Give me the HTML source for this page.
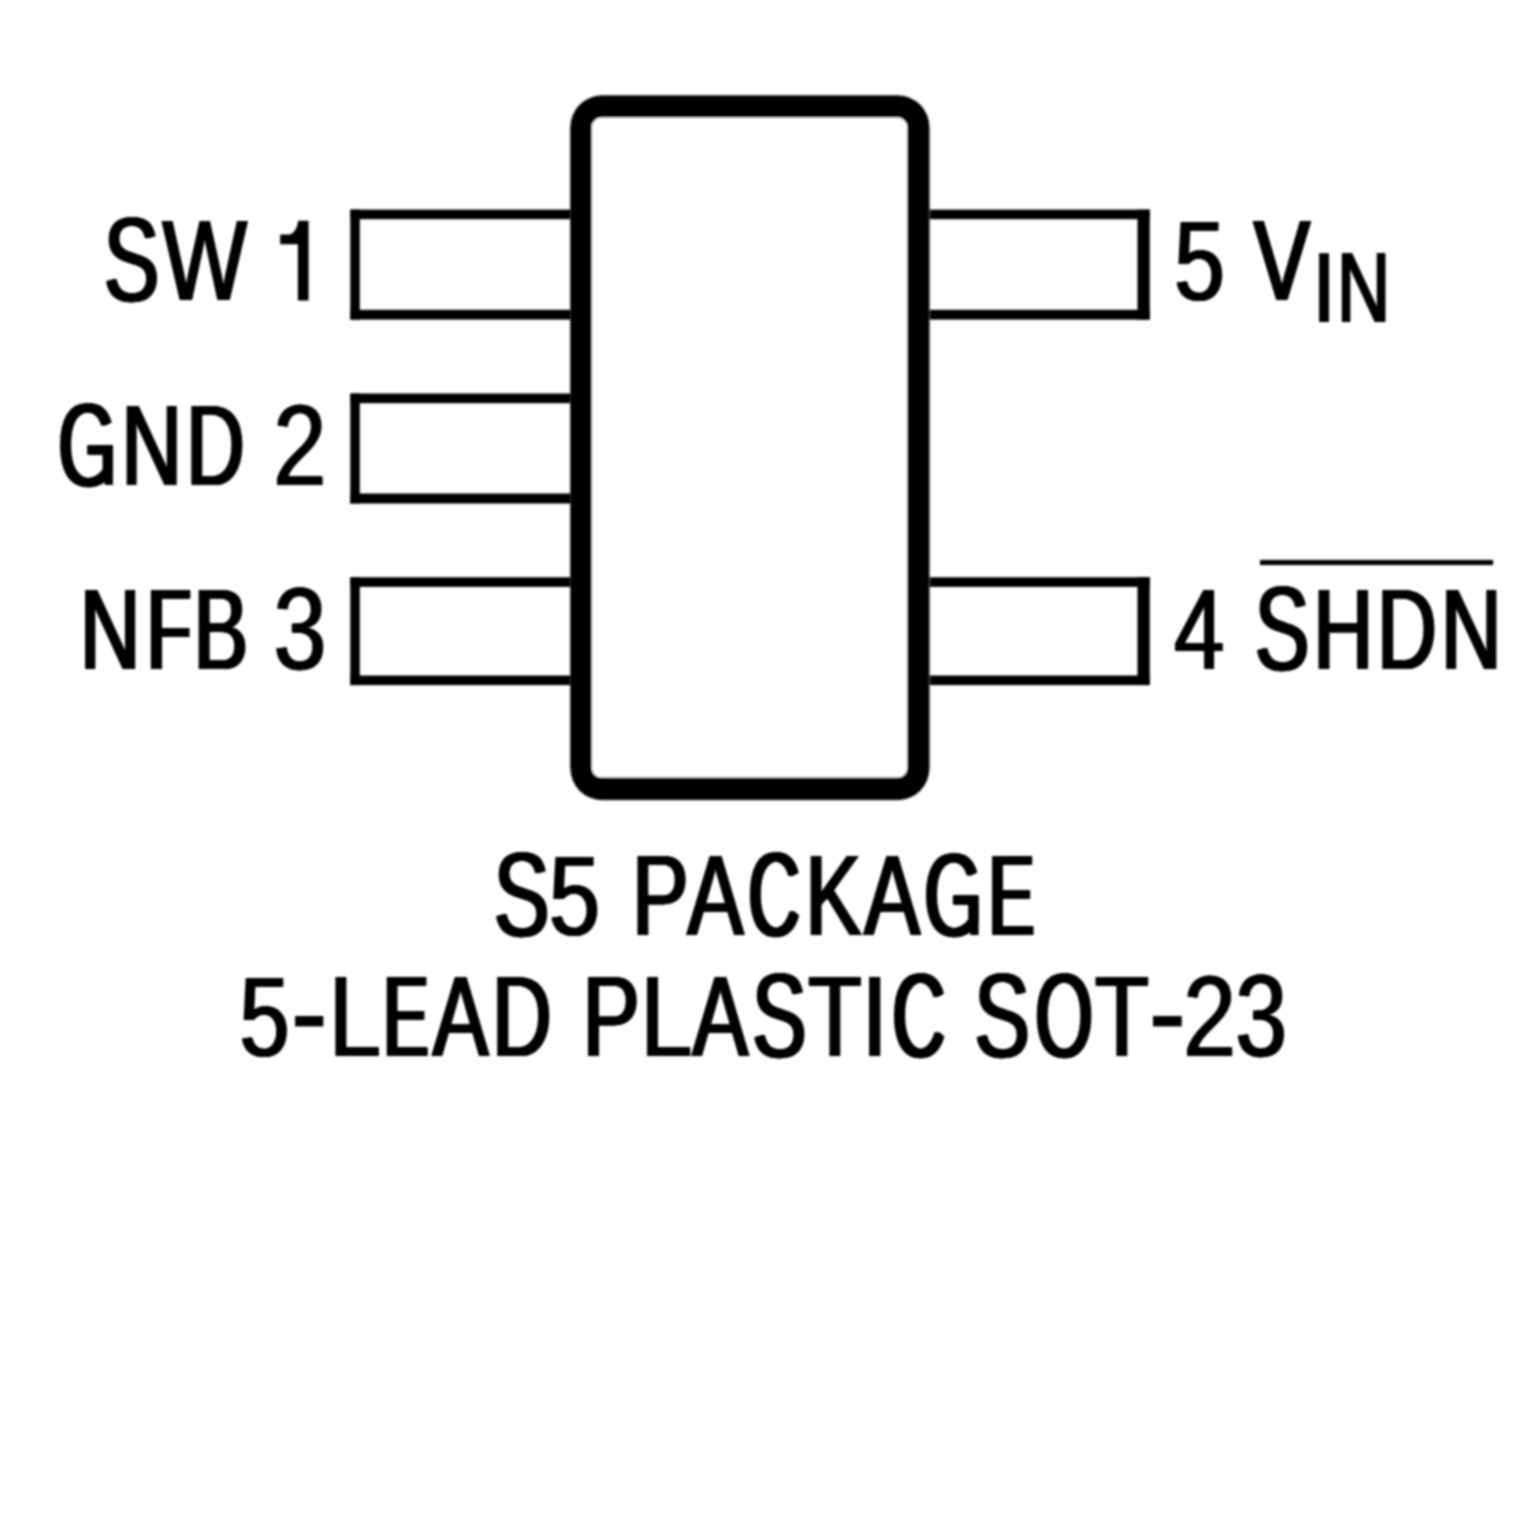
<!DOCTYPE html>
<html>
<head>
<meta charset="utf-8">
<title>S5 Package Pinout</title>
<style>
html,body{margin:0;padding:0;background:#fff;}
body{width:1535px;height:1535px;overflow:hidden;}
svg{display:block;}
text{font-family:"Liberation Sans",sans-serif;fill:#000;text-rendering:geometricPrecision;}
</style>
</head>
<body>
<svg width="1535" height="1535" viewBox="0 0 1535 1535">
<defs><filter id="soft" x="0" y="0" width="1535" height="1535" filterUnits="userSpaceOnUse"><feGaussianBlur stdDeviation="0.9"/></filter></defs>
<rect x="0" y="0" width="1535" height="1535" fill="#ffffff"/>
<g id="diagram" filter="url(#soft)">
<g id="pins" fill="#000">
<rect x="350.3" y="209.6" width="225" height="9.6"/><rect x="350.3" y="309.8" width="225" height="9.8"/><rect x="350.3" y="209.6" width="9.5" height="110.0"/>
<rect x="350.3" y="393.5" width="225" height="9.7"/><rect x="350.3" y="493.5" width="225" height="10.0"/><rect x="350.3" y="393.5" width="9.5" height="110.0"/>
<rect x="350.3" y="577.3" width="225" height="9.6"/><rect x="350.3" y="675.5" width="225" height="9.6"/><rect x="350.3" y="577.3" width="9.5" height="107.8"/>
<rect x="925" y="209.6" width="224.8" height="9.6"/><rect x="925" y="309.8" width="224.8" height="9.8"/><rect x="1137.5" y="209.6" width="12.3" height="110.0"/>
<rect x="925" y="577.3" width="224.8" height="9.6"/><rect x="925" y="675.5" width="224.8" height="9.6"/><rect x="1137.5" y="577.3" width="12.3" height="107.8"/>
</g>
<path id="body-fill" d="M602.2,95.2 H897.6 A32,32 0 0 1 929.6,127.2 V768.3 A32,32 0 0 1 897.6,800.3 H602.2 A32,32 0 0 1 570.2,768.3 V127.2 A32,32 0 0 1 602.2,95.2 Z" fill="#fff"/>
<path id="body" d="M602.2,95.2 H897.6 A32,32 0 0 1 929.6,127.2 V768.3 A32,32 0 0 1 897.6,800.3 H602.2 A32,32 0 0 1 570.2,768.3 V127.2 A32,32 0 0 1 602.2,95.2 Z M601.3,117.6 H897.7 A9.5,9.5 0 0 1 907.2,127.1 V768.1 A9.5,9.5 0 0 1 897.7,777.6 H601.3 A9.5,9.5 0 0 1 591.8,768.1 V127.1 A9.5,9.5 0 0 1 601.3,117.6 Z" fill="#000" fill-rule="evenodd"/>
<g id="marks" fill="#000">
<rect x="1260" y="559.9" width="233.1" height="5.2"/>
<rect x="295.1" y="1016" width="28.2" height="10.4"/>
<rect x="1153" y="1016" width="28.7" height="10.4"/>
<path d="M298.2,220.8 H308.6 V300.4 H297.9 V244.2 H280.2 V234.5 H289.5 C294,233.5 297,229 298.2,220.8 Z"/>
<rect x="104.6" y="445" width="8.3" height="39.9"/>
<rect x="970.2" y="895.5" width="8.4" height="39.5"/>
</g>
<g id="labels">
<text transform="translate(102.36,301) scale(0.7219,1.043)" font-size="114.95">S</text><text transform="translate(103.17,301) scale(0.7219,1.043)" font-size="114.95">S</text><text transform="translate(103.98,301) scale(0.7219,1.043)" font-size="114.95">S</text><text transform="translate(104.79,301) scale(0.7219,1.043)" font-size="114.95">S</text><text transform="translate(105.60,301) scale(0.7219,1.043)" font-size="114.95">S</text>
<text transform="translate(160.99,300) scale(0.7822,1)" font-size="114.95">W</text><text transform="translate(161.64,300) scale(0.7822,1)" font-size="114.95">W</text><text transform="translate(162.29,300) scale(0.7822,1)" font-size="114.95">W</text><text transform="translate(162.94,300) scale(0.7822,1)" font-size="114.95">W</text><text transform="translate(163.59,300) scale(0.7822,1)" font-size="114.95">W</text>
<text transform="translate(56.22,486) scale(0.6523,1.03)" font-size="114.95">G</text><text transform="translate(57.22,486) scale(0.6523,1.03)" font-size="114.95">G</text><text transform="translate(58.21,486) scale(0.6523,1.03)" font-size="114.95">G</text><text transform="translate(59.20,486) scale(0.6523,1.03)" font-size="114.95">G</text><text transform="translate(60.20,486) scale(0.6523,1.03)" font-size="114.95">G</text>
<text transform="translate(119.68,485) scale(0.7337,1)" font-size="114.95">N</text><text transform="translate(120.46,485) scale(0.7337,1)" font-size="114.95">N</text><text transform="translate(121.24,485) scale(0.7337,1)" font-size="114.95">N</text><text transform="translate(122.02,485) scale(0.7337,1)" font-size="114.95">N</text><text transform="translate(122.80,485) scale(0.7337,1)" font-size="114.95">N</text>
<text transform="translate(184.81,485) scale(0.6984,1)" font-size="114.95">D</text><text transform="translate(185.69,485) scale(0.6984,1)" font-size="114.95">D</text><text transform="translate(186.56,485) scale(0.6984,1)" font-size="114.95">D</text><text transform="translate(187.44,485) scale(0.6984,1)" font-size="114.95">D</text><text transform="translate(188.31,485) scale(0.6984,1)" font-size="114.95">D</text>
<text transform="translate(272.30,485) scale(0.8314,1)" font-size="114.95">2</text><text transform="translate(272.81,485) scale(0.8314,1)" font-size="114.95">2</text><text transform="translate(273.33,485) scale(0.8314,1)" font-size="114.95">2</text><text transform="translate(273.84,485) scale(0.8314,1)" font-size="114.95">2</text><text transform="translate(274.36,485) scale(0.8314,1)" font-size="114.95">2</text>
<text transform="translate(78.31,669) scale(0.7299,1)" font-size="114.95">N</text><text transform="translate(79.10,669) scale(0.7299,1)" font-size="114.95">N</text><text transform="translate(79.89,669) scale(0.7299,1)" font-size="114.95">N</text><text transform="translate(80.68,669) scale(0.7299,1)" font-size="114.95">N</text><text transform="translate(81.47,669) scale(0.7299,1)" font-size="114.95">N</text>
<text transform="translate(145.12,669) scale(0.6232,1)" font-size="114.95">F</text><text transform="translate(146.20,669) scale(0.6232,1)" font-size="114.95">F</text><text transform="translate(147.27,669) scale(0.6232,1)" font-size="114.95">F</text><text transform="translate(148.34,669) scale(0.6232,1)" font-size="114.95">F</text><text transform="translate(149.42,669) scale(0.6232,1)" font-size="114.95">F</text>
<text transform="translate(192.03,669) scale(0.7068,1)" font-size="114.95">B</text><text transform="translate(192.88,669) scale(0.7068,1)" font-size="114.95">B</text><text transform="translate(193.73,669) scale(0.7068,1)" font-size="114.95">B</text><text transform="translate(194.58,669) scale(0.7068,1)" font-size="114.95">B</text><text transform="translate(195.43,669) scale(0.7068,1)" font-size="114.95">B</text>
<text transform="translate(272.56,669) scale(0.8245,1.015)" font-size="114.95">3</text><text transform="translate(273.09,669) scale(0.8245,1.015)" font-size="114.95">3</text><text transform="translate(273.63,669) scale(0.8245,1.015)" font-size="114.95">3</text><text transform="translate(274.17,669) scale(0.8245,1.015)" font-size="114.95">3</text><text transform="translate(274.70,669) scale(0.8245,1.015)" font-size="114.95">3</text>
<text transform="translate(1172.92,300) scale(0.7902,0.985)" font-size="114.95">5</text><text transform="translate(1173.55,300) scale(0.7902,0.985)" font-size="114.95">5</text><text transform="translate(1174.17,300) scale(0.7902,0.985)" font-size="114.95">5</text><text transform="translate(1174.80,300) scale(0.7902,0.985)" font-size="114.95">5</text><text transform="translate(1175.42,300) scale(0.7902,0.985)" font-size="114.95">5</text>
<text transform="translate(1252.08,300) scale(0.7372,1)" font-size="114.95">V</text><text transform="translate(1252.85,300) scale(0.7372,1)" font-size="114.95">V</text><text transform="translate(1253.62,300) scale(0.7372,1)" font-size="114.95">V</text><text transform="translate(1254.39,300) scale(0.7372,1)" font-size="114.95">V</text><text transform="translate(1255.16,300) scale(0.7372,1)" font-size="114.95">V</text>
<text transform="translate(1309.13,322) scale(1.0656,1)" font-size="100.0">I</text>
<text transform="translate(1335.65,322) scale(0.7363,1)" font-size="100.0">N</text><text transform="translate(1336.32,322) scale(0.7363,1)" font-size="100.0">N</text><text transform="translate(1336.99,322) scale(0.7363,1)" font-size="100.0">N</text><text transform="translate(1337.66,322) scale(0.7363,1)" font-size="100.0">N</text><text transform="translate(1338.33,322) scale(0.7363,1)" font-size="100.0">N</text>
<text transform="translate(1172.94,669) scale(0.7802,1)" font-size="114.95">4</text><text transform="translate(1173.60,669) scale(0.7802,1)" font-size="114.95">4</text><text transform="translate(1174.25,669) scale(0.7802,1)" font-size="114.95">4</text><text transform="translate(1174.90,669) scale(0.7802,1)" font-size="114.95">4</text><text transform="translate(1175.56,669) scale(0.7802,1)" font-size="114.95">4</text>
<text transform="translate(1253.17,670) scale(0.7101,1.043)" font-size="114.95">S</text><text transform="translate(1254.01,670) scale(0.7101,1.043)" font-size="114.95">S</text><text transform="translate(1254.85,670) scale(0.7101,1.043)" font-size="114.95">S</text><text transform="translate(1255.69,670) scale(0.7101,1.043)" font-size="114.95">S</text><text transform="translate(1256.53,670) scale(0.7101,1.043)" font-size="114.95">S</text>
<text transform="translate(1311.70,669) scale(0.7206,1)" font-size="114.95">H</text><text transform="translate(1312.51,669) scale(0.7206,1)" font-size="114.95">H</text><text transform="translate(1313.33,669) scale(0.7206,1)" font-size="114.95">H</text><text transform="translate(1314.14,669) scale(0.7206,1)" font-size="114.95">H</text><text transform="translate(1314.96,669) scale(0.7206,1)" font-size="114.95">H</text>
<text transform="translate(1375.53,669) scale(0.7176,1)" font-size="114.95">D</text><text transform="translate(1376.35,669) scale(0.7176,1)" font-size="114.95">D</text><text transform="translate(1377.17,669) scale(0.7176,1)" font-size="114.95">D</text><text transform="translate(1377.99,669) scale(0.7176,1)" font-size="114.95">D</text><text transform="translate(1378.81,669) scale(0.7176,1)" font-size="114.95">D</text>
<text transform="translate(1439.26,669) scale(0.7355,1)" font-size="114.95">N</text><text transform="translate(1440.03,669) scale(0.7355,1)" font-size="114.95">N</text><text transform="translate(1440.81,669) scale(0.7355,1)" font-size="114.95">N</text><text transform="translate(1441.59,669) scale(0.7355,1)" font-size="114.95">N</text><text transform="translate(1442.36,669) scale(0.7355,1)" font-size="114.95">N</text>
<text transform="translate(492.29,936) scale(0.7246,1.043)" font-size="114.95">S</text><text transform="translate(493.09,936) scale(0.7246,1.043)" font-size="114.95">S</text><text transform="translate(493.90,936) scale(0.7246,1.043)" font-size="114.95">S</text><text transform="translate(494.70,936) scale(0.7246,1.043)" font-size="114.95">S</text><text transform="translate(495.51,936) scale(0.7246,1.043)" font-size="114.95">S</text>
<text transform="translate(547.78,935) scale(0.7971,0.985)" font-size="114.95">5</text><text transform="translate(548.39,935) scale(0.7971,0.985)" font-size="114.95">5</text><text transform="translate(549.00,935) scale(0.7971,0.985)" font-size="114.95">5</text><text transform="translate(549.61,935) scale(0.7971,0.985)" font-size="114.95">5</text><text transform="translate(550.22,935) scale(0.7971,0.985)" font-size="114.95">5</text>
<text transform="translate(630.43,935) scale(0.7386,1)" font-size="114.95">P</text><text transform="translate(631.20,935) scale(0.7386,1)" font-size="114.95">P</text><text transform="translate(631.96,935) scale(0.7386,1)" font-size="114.95">P</text><text transform="translate(632.73,935) scale(0.7386,1)" font-size="114.95">P</text><text transform="translate(633.49,935) scale(0.7386,1)" font-size="114.95">P</text>
<text transform="translate(685.78,935) scale(0.7364,1)" font-size="114.95">A</text><text transform="translate(686.55,935) scale(0.7364,1)" font-size="114.95">A</text><text transform="translate(687.32,935) scale(0.7364,1)" font-size="114.95">A</text><text transform="translate(688.09,935) scale(0.7364,1)" font-size="114.95">A</text><text transform="translate(688.86,935) scale(0.7364,1)" font-size="114.95">A</text>
<text transform="translate(746.26,936) scale(0.62,1.043)" font-size="114.95">C</text><text transform="translate(747.34,936) scale(0.62,1.043)" font-size="114.95">C</text><text transform="translate(748.43,936) scale(0.62,1.043)" font-size="114.95">C</text><text transform="translate(749.51,936) scale(0.62,1.043)" font-size="114.95">C</text><text transform="translate(750.60,936) scale(0.62,1.043)" font-size="114.95">C</text>
<text transform="translate(803.75,935) scale(0.7361,1)" font-size="114.95">K</text><text transform="translate(804.52,935) scale(0.7361,1)" font-size="114.95">K</text><text transform="translate(805.30,935) scale(0.7361,1)" font-size="114.95">K</text><text transform="translate(806.07,935) scale(0.7361,1)" font-size="114.95">K</text><text transform="translate(806.85,935) scale(0.7361,1)" font-size="114.95">K</text>
<text transform="translate(862.38,935) scale(0.7333,1)" font-size="114.95">A</text><text transform="translate(863.16,935) scale(0.7333,1)" font-size="114.95">A</text><text transform="translate(863.94,935) scale(0.7333,1)" font-size="114.95">A</text><text transform="translate(864.72,935) scale(0.7333,1)" font-size="114.95">A</text><text transform="translate(865.50,935) scale(0.7333,1)" font-size="114.95">A</text>
<text transform="translate(922.24,936) scale(0.6476,1.03)" font-size="114.95">G</text><text transform="translate(923.25,936) scale(0.6476,1.03)" font-size="114.95">G</text><text transform="translate(924.26,936) scale(0.6476,1.03)" font-size="114.95">G</text><text transform="translate(925.27,936) scale(0.6476,1.03)" font-size="114.95">G</text><text transform="translate(926.28,936) scale(0.6476,1.03)" font-size="114.95">G</text>
<text transform="translate(986.49,935) scale(0.594,1)" font-size="114.95">E</text><text transform="translate(987.64,935) scale(0.594,1)" font-size="114.95">E</text><text transform="translate(988.80,935) scale(0.594,1)" font-size="114.95">E</text><text transform="translate(989.95,935) scale(0.594,1)" font-size="114.95">E</text><text transform="translate(991.11,935) scale(0.594,1)" font-size="114.95">E</text>
<text transform="translate(238.27,1056) scale(0.7811,0.985)" font-size="114.95">5</text><text transform="translate(238.92,1056) scale(0.7811,0.985)" font-size="114.95">5</text><text transform="translate(239.57,1056) scale(0.7811,0.985)" font-size="114.95">5</text><text transform="translate(240.22,1056) scale(0.7811,0.985)" font-size="114.95">5</text><text transform="translate(240.87,1056) scale(0.7811,0.985)" font-size="114.95">5</text>
<text transform="translate(327.82,1056) scale(0.8139,1)" font-size="114.95">L</text><text transform="translate(328.38,1056) scale(0.8139,1)" font-size="114.95">L</text><text transform="translate(328.95,1056) scale(0.8139,1)" font-size="114.95">L</text><text transform="translate(329.51,1056) scale(0.8139,1)" font-size="114.95">L</text><text transform="translate(330.08,1056) scale(0.8139,1)" font-size="114.95">L</text>
<text transform="translate(381.17,1056) scale(0.5863,1)" font-size="114.95">E</text><text transform="translate(382.34,1056) scale(0.5863,1)" font-size="114.95">E</text><text transform="translate(383.52,1056) scale(0.5863,1)" font-size="114.95">E</text><text transform="translate(384.69,1056) scale(0.5863,1)" font-size="114.95">E</text><text transform="translate(385.87,1056) scale(0.5863,1)" font-size="114.95">E</text>
<text transform="translate(430.98,1056) scale(0.7317,1)" font-size="114.95">A</text><text transform="translate(431.76,1056) scale(0.7317,1)" font-size="114.95">A</text><text transform="translate(432.55,1056) scale(0.7317,1)" font-size="114.95">A</text><text transform="translate(433.34,1056) scale(0.7317,1)" font-size="114.95">A</text><text transform="translate(434.12,1056) scale(0.7317,1)" font-size="114.95">A</text>
<text transform="translate(490.57,1056) scale(0.7141,1)" font-size="114.95">D</text><text transform="translate(491.40,1056) scale(0.7141,1)" font-size="114.95">D</text><text transform="translate(492.23,1056) scale(0.7141,1)" font-size="114.95">D</text><text transform="translate(493.06,1056) scale(0.7141,1)" font-size="114.95">D</text><text transform="translate(493.89,1056) scale(0.7141,1)" font-size="114.95">D</text>
<text transform="translate(581.06,1056) scale(0.7466,1)" font-size="114.95">P</text><text transform="translate(581.80,1056) scale(0.7466,1)" font-size="114.95">P</text><text transform="translate(582.55,1056) scale(0.7466,1)" font-size="114.95">P</text><text transform="translate(583.29,1056) scale(0.7466,1)" font-size="114.95">P</text><text transform="translate(584.04,1056) scale(0.7466,1)" font-size="114.95">P</text>
<text transform="translate(639.49,1056) scale(0.8064,1)" font-size="114.95">L</text><text transform="translate(640.07,1056) scale(0.8064,1)" font-size="114.95">L</text><text transform="translate(640.66,1056) scale(0.8064,1)" font-size="114.95">L</text><text transform="translate(641.25,1056) scale(0.8064,1)" font-size="114.95">L</text><text transform="translate(641.83,1056) scale(0.8064,1)" font-size="114.95">L</text>
<text transform="translate(690.68,1056) scale(0.7317,1)" font-size="114.95">A</text><text transform="translate(691.47,1056) scale(0.7317,1)" font-size="114.95">A</text><text transform="translate(692.25,1056) scale(0.7317,1)" font-size="114.95">A</text><text transform="translate(693.03,1056) scale(0.7317,1)" font-size="114.95">A</text><text transform="translate(693.82,1056) scale(0.7317,1)" font-size="114.95">A</text>
<text transform="translate(750.59,1057) scale(0.7065,1.043)" font-size="114.95">S</text><text transform="translate(751.44,1057) scale(0.7065,1.043)" font-size="114.95">S</text><text transform="translate(752.29,1057) scale(0.7065,1.043)" font-size="114.95">S</text><text transform="translate(753.14,1057) scale(0.7065,1.043)" font-size="114.95">S</text><text transform="translate(753.99,1057) scale(0.7065,1.043)" font-size="114.95">S</text>
<text transform="translate(806.73,1056) scale(0.7615,1)" font-size="114.95">T</text><text transform="translate(807.43,1056) scale(0.7615,1)" font-size="114.95">T</text><text transform="translate(808.14,1056) scale(0.7615,1)" font-size="114.95">T</text><text transform="translate(808.85,1056) scale(0.7615,1)" font-size="114.95">T</text><text transform="translate(809.55,1056) scale(0.7615,1)" font-size="114.95">T</text>
<text transform="translate(858.09,1056) scale(1.0462,1)" font-size="114.95">I</text>
<text transform="translate(890.27,1057) scale(0.6362,1.043)" font-size="114.95">C</text><text transform="translate(891.31,1057) scale(0.6362,1.043)" font-size="114.95">C</text><text transform="translate(892.35,1057) scale(0.6362,1.043)" font-size="114.95">C</text><text transform="translate(893.39,1057) scale(0.6362,1.043)" font-size="114.95">C</text><text transform="translate(894.43,1057) scale(0.6362,1.043)" font-size="114.95">C</text>
<text transform="translate(972.80,1057) scale(0.7228,1.043)" font-size="114.95">S</text><text transform="translate(973.61,1057) scale(0.7228,1.043)" font-size="114.95">S</text><text transform="translate(974.42,1057) scale(0.7228,1.043)" font-size="114.95">S</text><text transform="translate(975.23,1057) scale(0.7228,1.043)" font-size="114.95">S</text><text transform="translate(976.04,1057) scale(0.7228,1.043)" font-size="114.95">S</text>
<text transform="translate(1033.17,1057) scale(0.6446,1.043)" font-size="114.95">O</text><text transform="translate(1034.19,1057) scale(0.6446,1.043)" font-size="114.95">O</text><text transform="translate(1035.21,1057) scale(0.6446,1.043)" font-size="114.95">O</text><text transform="translate(1036.23,1057) scale(0.6446,1.043)" font-size="114.95">O</text><text transform="translate(1037.25,1057) scale(0.6446,1.043)" font-size="114.95">O</text>
<text transform="translate(1093.51,1056) scale(0.7689,1)" font-size="114.95">T</text><text transform="translate(1094.20,1056) scale(0.7689,1)" font-size="114.95">T</text><text transform="translate(1094.88,1056) scale(0.7689,1)" font-size="114.95">T</text><text transform="translate(1095.57,1056) scale(0.7689,1)" font-size="114.95">T</text><text transform="translate(1096.25,1056) scale(0.7689,1)" font-size="114.95">T</text>
<text transform="translate(1182.14,1056) scale(0.8242,1)" font-size="114.95">2</text><text transform="translate(1182.67,1056) scale(0.8242,1)" font-size="114.95">2</text><text transform="translate(1183.21,1056) scale(0.8242,1)" font-size="114.95">2</text><text transform="translate(1183.75,1056) scale(0.8242,1)" font-size="114.95">2</text><text transform="translate(1184.28,1056) scale(0.8242,1)" font-size="114.95">2</text>
<text transform="translate(1234.35,1056) scale(0.8039,1.015)" font-size="114.95">3</text><text transform="translate(1234.94,1056) scale(0.8039,1.015)" font-size="114.95">3</text><text transform="translate(1235.53,1056) scale(0.8039,1.015)" font-size="114.95">3</text><text transform="translate(1236.12,1056) scale(0.8039,1.015)" font-size="114.95">3</text><text transform="translate(1236.71,1056) scale(0.8039,1.015)" font-size="114.95">3</text>
</g>
</g>
</svg>
</body>
</html>
